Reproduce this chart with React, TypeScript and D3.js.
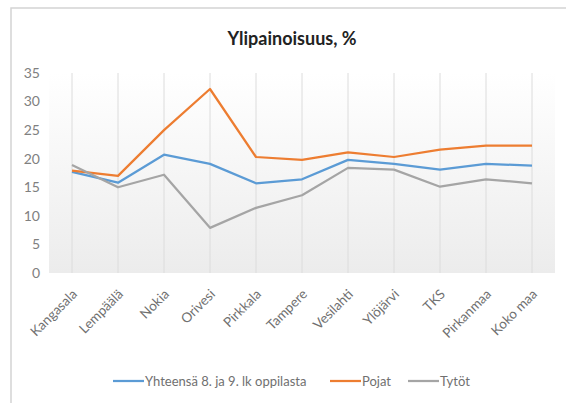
import React from "react";
import * as d3 from "d3";

const categories = [
  "Kangasala", "Lempäälä", "Nokia", "Orivesi", "Pirkkala", "Tampere",
  "Vesilahti", "Ylöjärvi", "TKS", "Pirkanmaa", "Koko maa",
];
const totalValues = [17.7, 15.8, 20.7, 19.1, 15.7, 16.4, 19.8, 19.1, 18.1, 19.1, 18.8];
const boysValues = [17.9, 17.0, 25.0, 32.2, 20.3, 19.8, 21.1, 20.3, 21.6, 22.3, 22.3];
const girlsValues = [18.9, 15.0, 17.2, 7.9, 11.4, 13.6, 18.4, 18.1, 15.1, 16.4, 15.7];
const yTicks = [0, 5, 10, 15, 20, 25, 30, 35];
const seriesNames = ["Yhteensä 8. ja 9. lk oppilasta", "Pojat", "Tytöt"];

const W = 566, H = 403;
const plot = { left: 49, right: 555, top: 73, bottom: 273 };
const font = "Lato, 'Open Sans', sans-serif";
const colors = ["#5B9BD5", "#ED7D31", "#A5A5A5"];

const App = () => {
  const x = d3.scaleBand<string>().domain(categories).range([plot.left, plot.right]).padding(0);
  const cx = (c: string) => (x(c) as number) + x.bandwidth() / 2;
  const y = d3.scaleLinear().domain([0, 35]).range([plot.bottom, plot.top]);

  const line = d3.line<number>()
    .x((_, i) => cx(categories[i]))
    .y((d) => y(d));

  const series = [totalValues, boysValues, girlsValues];

  // legend positions (x of line start for each entry)
  const legendX = [113, 330, 408];

  return (
    <svg width={W} height={H} style={{ position: "absolute", left: 0, top: 0 }} fontFamily={font}>
      <defs>
        <linearGradient id="plotBg" x1="0" y1="0" x2="0" y2="1">
          <stop offset="0%" stopColor="#ffffff" />
          <stop offset="100%" stopColor="#ececec" />
        </linearGradient>
      </defs>
      <rect x={0} y={0} width={W} height={H} fill="#ffffff" />
      {/* chart border, right and bottom are off the picture */}
      <rect x={11} y={8} width={600} height={420} fill="none" stroke="#d4d4d4" strokeWidth={1.5} />

      <text x={292} y={45} textAnchor="middle" fontSize={18} fontWeight="bold" fill="#222">
        Ylipainoisuus, %
      </text>

      {/*plot background*/}
      <rect x={plot.left} y={plot.top} width={plot.right - plot.left} height={plot.bottom - plot.top} fill="url(#plotBg)" />
      {categories.map((c) => (
        <line key={c} x1={cx(c)} x2={cx(c)} y1={plot.top} y2={plot.bottom} stroke="#dcdcdc" strokeWidth={1} />
      ))}

      {/*y axis labels*/}
      {yTicks.map((t) => (
        <text key={t} x={40} y={y(t)} dy="0.35em" textAnchor="end" fontSize={14} fill="#808080">
          {t}
        </text>
      ))}

      {/*x axis labels*/}
      {categories.map((c) => (
        <text
          key={c}
          transform={`translate(${cx(c) + 6},${plot.bottom + 22}) rotate(-45)`}
          textAnchor="end"
          fontSize={13.5}
          fill="#707070"
        >
          {c}
        </text>
      ))}

      {/*series*/}
      {series.map((s, i) => (
        <path key={i} d={line(s) as string} fill="none" stroke={colors[i]} strokeWidth={2.25} strokeLinejoin="round" />
      ))}

      {/*legend*/}
      {seriesNames.map((n, i) => (
        <g key={n}>
          <line x1={legendX[i]} x2={legendX[i] + 31} y1={381} y2={381} stroke={colors[i]} strokeWidth={2.25} />
          <text x={legendX[i] + 32} y={381} dy="0.35em" fontSize={13} fill="#707070">
            {n}
          </text>
        </g>
      ))}
    </svg>
  );
};

export default App;
